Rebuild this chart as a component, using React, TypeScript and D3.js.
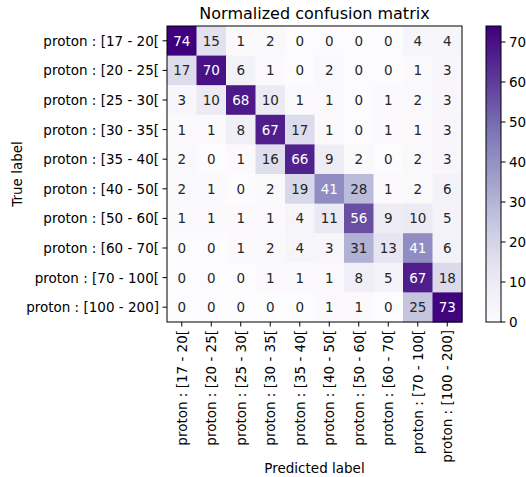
import React from "react";
import * as d3 from "d3";

const labels = [
  "proton : [17 - 20[",
  "proton : [20 - 25[",
  "proton : [25 - 30[",
  "proton : [30 - 35[",
  "proton : [35 - 40[",
  "proton : [40 - 50[",
  "proton : [50 - 60[",
  "proton : [60 - 70[",
  "proton : [70 - 100[",
  "proton : [100 - 200]",
];

const matrix: number[][] = [
  [74, 15, 1, 2, 0, 0, 0, 0, 4, 4],
  [17, 70, 6, 1, 0, 2, 0, 0, 1, 3],
  [3, 10, 68, 10, 1, 1, 0, 1, 2, 3],
  [1, 1, 8, 67, 17, 1, 0, 1, 1, 3],
  [2, 0, 1, 16, 66, 9, 2, 0, 2, 3],
  [2, 1, 0, 2, 19, 41, 28, 1, 2, 6],
  [1, 1, 1, 1, 4, 11, 56, 9, 10, 5],
  [0, 0, 1, 2, 4, 3, 31, 13, 41, 6],
  [0, 0, 0, 1, 1, 1, 8, 5, 67, 18],
  [0, 0, 0, 0, 0, 1, 1, 0, 25, 73],
];

const colorbarTicks = [0, 10, 20, 30, 40, 50, 60, 70];

const W = 526;
const H = 477;
const font = "DejaVu Sans, sans-serif";
const fs = 13.5;

export default function App() {
  const left = 167;
  const right = 462;
  const top = 26;
  const bottom = 322;

  const vmax = d3.max(matrix.flat()) as number;
  const color = d3.scaleSequential(d3.interpolatePurples).domain([0, vmax]);

  const x = d3.scaleBand<number>().domain(d3.range(labels.length)).range([left, right]);
  const y = d3.scaleBand<number>().domain(d3.range(labels.length)).range([top, bottom]);

  const cbLeft = 486;
  const cbWidth = 15;
  const cbY = d3.scaleLinear().domain([0, vmax]).range([bottom, top]);
  const gradSteps = d3.range(0, 101).map((i) => i / 100);

  return (
    <svg
      width={W}
      height={H}
      style={{ position: "absolute", left: 0, top: 0, background: "#fff" }}
      fontFamily={font}
    >
      <defs>
        <linearGradient id="cbgrad" x1="0" y1="1" x2="0" y2="0">
          {gradSteps.map((t) => (
            <stop key={t} offset={t} stopColor={color(t * vmax)} />
          ))}
        </linearGradient>
      </defs>

      <text x={(left + right) / 2} y={19} textAnchor="middle" fontSize={16}>
        Normalized confusion matrix
      </text>

      {matrix.map((row, i) =>
        row.map((v, j) => (
          <g key={`${i}-${j}`}>
            <rect
              x={x(j)}
              y={y(i)}
              width={x.bandwidth() + 0.5}
              height={y.bandwidth() + 0.5}
              fill={color(v)}
            />
            <text
              x={(x(j) as number) + x.bandwidth() / 2}
              y={(y(i) as number) + y.bandwidth() / 2}
              textAnchor="middle"
              dominantBaseline="central"
              fontSize={fs}
              fill={v > vmax / 2 ? "#ffffff" : "#262626"}
            >
              {v}
            </text>
          </g>
        ))
      )}

      <rect
        x={left}
        y={top}
        width={right - left}
        height={bottom - top}
        fill="none"
        stroke="#000"
        strokeWidth={1}
      />

      {labels.map((lab, i) => {
        const cy = (y(i) as number) + y.bandwidth() / 2;
        return (
          <g key={`y-${i}`}>
            <line x1={left - 4.5} x2={left} y1={cy} y2={cy} stroke="#000" strokeWidth={1} />
            <text x={left - 8} y={cy} textAnchor="end" dominantBaseline="central" fontSize={fs}>
              {lab}
            </text>
          </g>
        );
      })}

      {labels.map((lab, j) => {
        const cx = (x(j) as number) + x.bandwidth() / 2;
        return (
          <g key={`x-${j}`}>
            <line x1={cx} x2={cx} y1={bottom} y2={bottom + 4.5} stroke="#000" strokeWidth={1} />
            <text
              transform={`translate(${cx},${bottom + 8}) rotate(-90)`}
              textAnchor="end"
              dominantBaseline="central"
              fontSize={fs}
            >
              {lab}
            </text>
          </g>
        );
      })}

      <text
        transform={`translate(${17},${(top + bottom) / 2}) rotate(-90)`}
        textAnchor="middle"
        dominantBaseline="central"
        fontSize={fs}
      >
        True label
      </text>
      <text x={(left + right) / 2} y={473} textAnchor="middle" fontSize={fs}>
        Predicted label
      </text>

      <rect x={cbLeft} y={top} width={cbWidth} height={bottom - top} fill="url(#cbgrad)" />
      <rect
        x={cbLeft}
        y={top}
        width={cbWidth}
        height={bottom - top}
        fill="none"
        stroke="#000"
        strokeWidth={1}
      />
      {colorbarTicks.map((t) => (
        <g key={`cb-${t}`}>
          <line
            x1={cbLeft + cbWidth}
            x2={cbLeft + cbWidth + 4.5}
            y1={cbY(t)}
            y2={cbY(t)}
            stroke="#000"
            strokeWidth={1}
          />
          <text
            x={cbLeft + cbWidth + 8}
            y={cbY(t)}
            dominantBaseline="central"
            fontSize={fs}
          >
            {t}
          </text>
        </g>
      ))}
    </svg>
  );
}
